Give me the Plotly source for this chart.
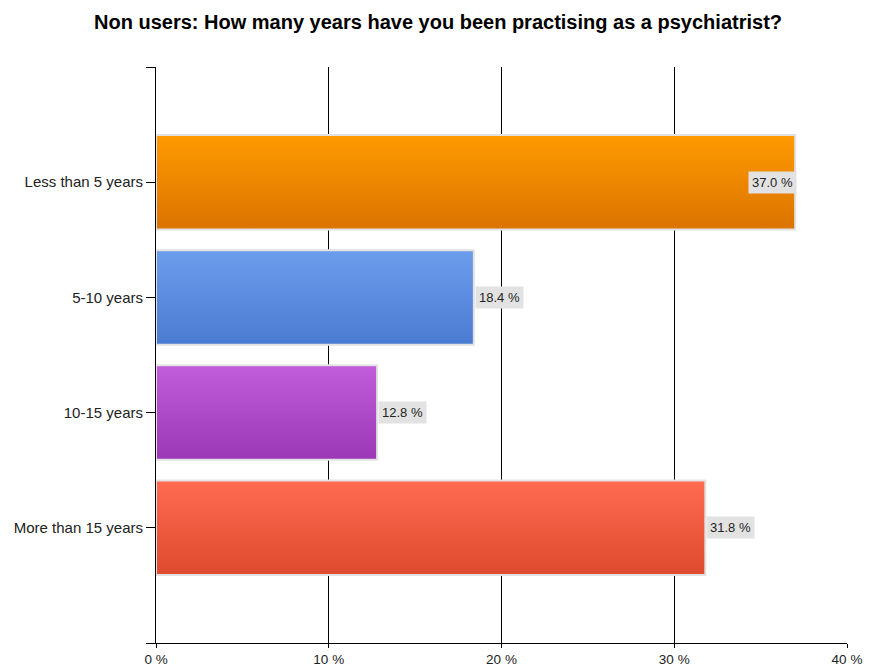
import plotly.graph_objects as go

# Survey answers (percent of non users), listed top to bottom
categories = ["Less than 5 years", "5-10 years", "10-15 years", "More than 15 years"]
values = [37.0, 18.4, 12.8, 31.8]
top_colors = ["#FF9A00", "#6C9DEC", "#C15DDB", "#FF6B50"]
bottom_colors = ["#DA7300", "#4A7BD2", "#9A38B6", "#DE4A2E"]
x_ticks = [0, 10, 20, 30, 40]
x_tick_labels = ["0 %", "10 %", "20 %", "30 %", "40 %"]

n = len(categories)
positions = [n - i for i in range(n)]  # first category at the top
half = 0.41

fig = go.Figure()

for cat, v, y, ct, cb in zip(categories, values, positions, top_colors, bottom_colors):
    fig.add_trace(go.Scatter(
        x=[0, v, v, 0, 0],
        y=[y - half, y - half, y + half, y + half, y - half],
        mode="lines",
        fill="toself",
        fillgradient=dict(type="vertical", colorscale=[[0, cb], [1, ct]]),
        line=dict(color="#E2E2E2", width=2),
        name=cat,
        hoverinfo="skip",
        showlegend=False,
    ))

# value labels: the longest bar carries its label inside, the rest just outside
longest = max(values)
for v, y in zip(values, positions):
    inside = v == longest
    fig.add_annotation(
        x=v, y=y, xref="x", yref="y",
        text=f"{v:.1f} %",
        showarrow=False,
        xanchor="right" if inside else "left",
        xshift=2 if inside else 1,
        bgcolor="#E2E2E2",
        borderpad=3,
        font=dict(family="Liberation Sans, Arial, sans-serif", size=13, color="#222222"),
    )

fig.update_layout(
    width=876, height=670,
    margin=dict(l=156, r=29, t=67, b=27, autoexpand=False),
    paper_bgcolor="white",
    plot_bgcolor="white",
    title=dict(
        text="<b>Non users: How many years have you been practising as a psychiatrist?</b>",
        x=0.5, xanchor="center", y=0.967, yanchor="middle",
        font=dict(family="Liberation Sans, Arial, sans-serif", size=20, color="#000000"),
    ),
    font=dict(family="Liberation Sans, Arial, sans-serif", size=12, color="#222222"),
)

fig.update_xaxes(
    range=[0, 40],
    tickvals=x_ticks, ticktext=x_tick_labels,
    showgrid=True, gridcolor="#000000", gridwidth=1,
    ticks="outside", ticklen=4, tickcolor="#000000",
    tickfont=dict(size=13.5),
    showline=True, linecolor="#000000", linewidth=1,
    zeroline=False, automargin=False,
    fixedrange=True,
)
fig.update_yaxes(
    range=[0, n + 1],
    tickvals=list(range(0, n + 2)),
    ticktext=[""] + categories[::-1] + [""],
    showgrid=False,
    ticks="outside", ticklen=9, tickcolor="#000000",
    tickfont=dict(size=15),
    showline=True, linecolor="#000000", linewidth=1,
    zeroline=False, automargin=False,
    fixedrange=True,
)

fig.write_html("out.html")
